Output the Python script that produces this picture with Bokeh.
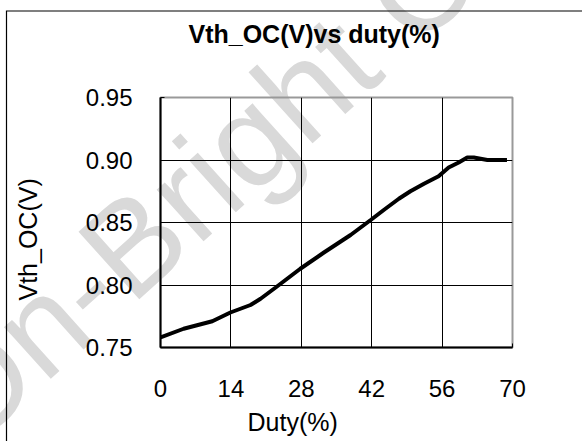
import math
from urllib.parse import quote
from bokeh.plotting import figure
from bokeh.models import FixedTicker, Range1d, CustomJSTickFormatter, Title
from bokeh.embed import file_html
from bokeh.resources import INLINE

# ---- data ----
duty = [0, 4.6, 10.3, 13.9, 17.9, 19.9, 22.9, 27.8, 32.5, 37.8, 41.8, 44.4,
        47.4, 49.7, 52.4, 55.3, 57.3, 59.3, 61.0, 62.3, 65.0, 68.9]
vth = [0.758, 0.765, 0.771, 0.778, 0.784, 0.789, 0.798, 0.813, 0.826, 0.840,
       0.852, 0.860, 0.869, 0.875, 0.881, 0.887, 0.894, 0.898, 0.902, 0.902,
       0.900, 0.900]
x_ticks = [0, 14, 28, 42, 56, 70]
y_ticks = [0.75, 0.80, 0.85, 0.90, 0.95]
title_text = "Vth_OC(V)vs duty(%)"
x_label = "Duty(%)"
y_label = "Vth_OC(V)"
watermark = "On-Bright Confidential"

FONT = "Liberation Sans"
OX, OY = -36, -37          # canvas origin on the page
DY = 1.5                   # observed extra vertical page offset
BL, BT, BB = 196, 134, 104
FW, FH = 352, 250
W = 618
H = BT + FH + BB

# page decorations drawn behind the transparent canvas: outer border + watermark
bx, by = 6 - OX + 0.5, 12 - OY - DY + 0.5
wx, wy = -32.3 - OX, 455.2 - OY - DY
bg_svg = (
    "<svg xmlns='http://www.w3.org/2000/svg' width='%d' height='%d'>"
    "<text x='%.1f' y='%.1f' transform='rotate(-42 %.1f %.1f)' "
    "font-family='Liberation Sans, Arial, sans-serif' font-size='132' fill='#d9d9d9'>%s</text>"
    "<path d='M%.1f %d L%.1f %.1f L%d %.1f' fill='none' stroke='black' stroke-width='1.2'/>"
    "</svg>" % (W, H, wx, wy, wx, wy, watermark, bx, H, bx, by, W, by)
)

p = figure(width=W, height=H, frame_width=FW, frame_height=FH,
           min_border_left=BL, min_border_right=W - BL - FW,
           min_border_top=BT, min_border_bottom=BB,
           x_range=Range1d(0, 70), y_range=Range1d(0.75, 0.95),
           output_backend="svg", toolbar_location=None,
           margin=(OY, 0, 0, OX),
           styles={"background-color": "white",
                   "background-image": "url(\"data:image/svg+xml," + quote(bg_svg) + "\")",
                   "background-repeat": "no-repeat",
                   "background-position": "0 0"})

p.background_fill_color = None
p.border_fill_color = None
p.outline_line_color = "#999999"
p.outline_line_width = 2

p.line(duty, vth, line_color="black", line_width=4)

for ax, ticks in ((p.xaxis, x_ticks), (p.yaxis, y_ticks)):
    ax.ticker = FixedTicker(ticks=ticks)
    ax.axis_line_color = "black"
    ax.axis_line_width = 2
    ax.major_tick_line_color = "black"
    ax.major_tick_in = 4
    ax.major_tick_out = 0
    ax.minor_tick_line_color = None
    ax.major_label_text_font = FONT
    ax.major_label_text_font_size = "24px"
    ax.major_label_text_color = "black"

p.yaxis.formatter = CustomJSTickFormatter(code="return tick.toFixed(2);")
p.xaxis.major_label_standoff = 32
p.yaxis.major_label_standoff = 28

p.grid.grid_line_color = "black"
p.grid.grid_line_width = 1
p.xgrid.ticker = FixedTicker(ticks=x_ticks)
p.ygrid.ticker = FixedTicker(ticks=y_ticks)

# title (text is centred in its box; standoff enlarges the box)
p.title.text = title_text
p.title.align = "left"
p.title.offset = 28
p.title.standoff = 99
p.title.text_font = FONT
p.title.text_font_size = "25px"
p.title.text_font_style = "bold"
p.title.text_color = "black"

# axis labels as side-panel titles so they can be placed like the reference
p.add_layout(Title(text=x_label, align="left", offset=87, standoff=12,
                   text_font=FONT, text_font_size="25px", text_font_style="normal",
                   text_color="black"), "below")
p.add_layout(Title(text=y_label, align="left", offset=47, standoff=81,
                   text_font=FONT, text_font_size="25px", text_font_style="normal",
                   text_color="black"), "left")

open("out.html", "w").write(file_html(p, INLINE))
